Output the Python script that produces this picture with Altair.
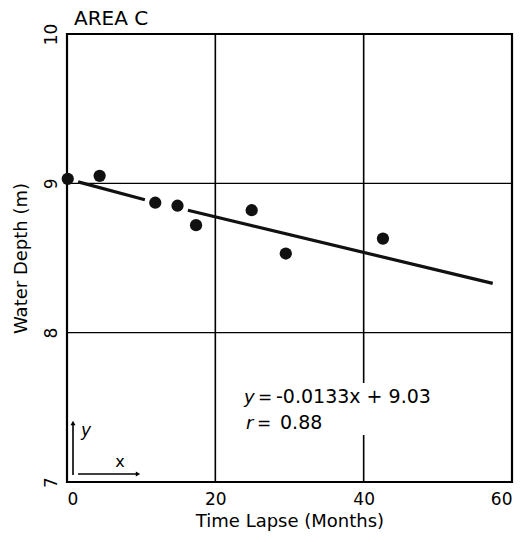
import altair as alt
import pandas as pd

# Data
months = [0.1, 4.4, 11.9, 14.9, 17.4, 24.9, 29.5, 42.6]
depth = [9.03, 9.05, 8.87, 8.85, 8.72, 8.82, 8.53, 8.63]

line_seg = ["a", "a", "b", "b"]
line_x = [1.5, 10.5, 16.3, 57.4]
line_y = [9.01, 8.89, 8.82, 8.33]

x_ticks = [0, 20, 40, 60]
y_ticks = [7, 8, 9, 10]
x_grid = [20, 40]
y_grid = [8, 9]

FONT = "DejaVu Sans"

pts = pd.DataFrame({"x": months, "y": depth})
lines = pd.DataFrame({"seg": line_seg, "x": line_x, "y": line_y})

xs = alt.Scale(domain=[0, 60], nice=False, zero=False)
ys = alt.Scale(domain=[7, 10], nice=False, zero=False)

xaxis = alt.Axis(values=x_ticks, format="d", grid=False, ticks=False, domain=False,
                 labelFont=FONT, labelFontSize=17, labelColor="black",
                 labelPadding=9, title="Time Lapse (Months)",
                 titleFont=FONT, titleFontSize=18, titleFontWeight="normal",
                 titleColor="black", titlePadding=5)
yaxis = alt.Axis(values=y_ticks, format="d", grid=False, ticks=False, domain=False,
                 labelFont=FONT, labelFontSize=17, labelColor="black",
                 labelAngle=270, labelAlign="center", labelBaseline="bottom",
                 labelPadding=7, title="Water Depth (m)",
                 titleFont=FONT, titleFontSize=18, titleFontWeight="normal",
                 titleColor="black", titlePadding=12)

grid_x = alt.Chart(pd.DataFrame({"g": x_grid})).mark_rule(
    color="black", strokeWidth=1.6).encode(
    x=alt.X("g:Q", scale=xs, axis=xaxis))
grid_y = alt.Chart(pd.DataFrame({"g": y_grid})).mark_rule(
    color="black", strokeWidth=1.4).encode(
    y=alt.Y("g:Q", scale=ys, axis=yaxis))

base_txt = alt.Chart(pd.DataFrame({"a": [0]}))

# white gap in the 40-month grid line behind the equation
gap = base_txt.mark_rect(color="white").encode(
    x=alt.value(290), x2=alt.value(300), y=alt.value(349), y2=alt.value(401))

reg = alt.Chart(lines).mark_line(color="#111", strokeWidth=3.2).encode(
    x=alt.X("x:Q", scale=xs), y=alt.Y("y:Q", scale=ys), detail="seg:N")

dots = alt.Chart(pts).mark_circle(color="#111", opacity=1, size=150).encode(
    x=alt.X("x:Q", scale=xs), y=alt.Y("y:Q", scale=ys))


def txt(s, x, y, italic=False, size=18, align="left"):
    return base_txt.mark_text(text=s, font=FONT, fontSize=size, color="black",
                              align=align, baseline="alphabetic",
                              fontStyle="italic" if italic else "normal").encode(
        x=alt.value(x), y=alt.value(y))

title_txt = txt("AREA C", 7, -9, size=20)
eq1a = txt("y", 177, 369, italic=True)
eq1b = txt("=", 191, 369, size=17)
eq1c = txt("-0.0133x + 9.03", 209, 369, size=19)
eq2a = txt("r", 179, 395, italic=True)
eq2b = txt("=", 190, 395, size=17)
eq2c = txt("0.88", 213, 395, size=19)

# small axis orientation icon
icon_v = base_txt.mark_rule(color="black", strokeWidth=1.6).encode(
    x=alt.value(6), y=alt.value(389), y2=alt.value(441))
icon_h = base_txt.mark_rule(color="black", strokeWidth=1.4).encode(
    x=alt.value(11), x2=alt.value(70), y=alt.value(440))
arrow_up = base_txt.mark_point(shape="triangle-up", filled=True, color="black",
                               size=25, opacity=1).encode(
    x=alt.value(6), y=alt.value(389))
arrow_r = base_txt.mark_point(shape="triangle-right", filled=True, color="black",
                              size=25, opacity=1).encode(
    x=alt.value(71), y=alt.value(440))
icon_y = txt("y", 14, 402, italic=True, size=17)
icon_x = txt("x", 53, 433, size=16, align="center")

chart = alt.layer(
    grid_x, grid_y, gap, reg, dots, title_txt, eq1a, eq1b, eq1c, eq2a, eq2b, eq2c,
    icon_v, icon_h, arrow_up, arrow_r, icon_y, icon_x
).properties(
    width=445, height=448,
    autosize=alt.AutoSizeParams(type="none"),
    padding={"left": 59, "top": 26, "right": 4, "bottom": 50},
    background="white",
).configure_view(stroke="black", strokeWidth=2.2)

chart.save("out.html", embed_options={"renderer": "svg", "actions": False})
